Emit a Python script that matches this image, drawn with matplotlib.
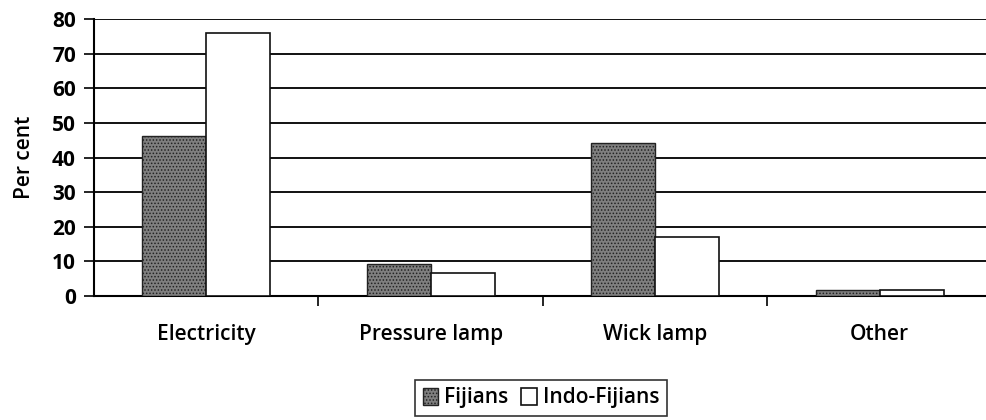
import matplotlib
matplotlib.use("Agg")
import matplotlib.pyplot as plt
import numpy as np

categories = ["Electricity", "Pressure lamp", "Wick lamp", "Other"]
fijians = [46.3, 9.2, 44.2, 1.6]
indo_fijians = [76.0, 6.7, 17.0, 1.6]
series_names = ["Fijians", "Indo-Fijians"]
yticks = [0, 10, 20, 30, 40, 50, 60, 70, 80]

plt.rcParams['font.family'] = ['Open Sans', 'DejaVu Sans']
plt.rcParams['hatch.color'] = '#333333'
plt.rcParams['hatch.linewidth'] = 0.7

fig = plt.figure(figsize=(9.87, 4.2), dpi=100)
ax = fig.add_axes([94/987, 1-296/420, 898/987, (296-19)/420])

x = np.arange(len(categories))
w = 0.285
ax.bar(x - w/2, fijians, w, facecolor='#7f7f7f', edgecolor='#222222',
       hatch='.....', linewidth=1.0, zorder=3, label=series_names[0])
ax.bar(x + w/2, indo_fijians, w, facecolor='white', edgecolor='#111111',
       linewidth=1.2, zorder=3, label=series_names[1])

ax.set_xlim(-0.5, 3.5)
ax.set_ylim(0, 80)
ax.set_yticks(yticks)
ax.set_yticklabels([str(t) for t in yticks], fontsize=15, fontweight='bold')
for yv in yticks[1:]:
    ax.axhline(yv, color='#111111', linewidth=1.4, zorder=1)

ax.set_xticks(x)
ax.set_xticklabels(categories, fontsize=15, fontweight='semibold')
ax.tick_params(axis='x', length=0, pad=20)
ax.set_xticks([0.5, 1.5, 2.5], minor=True)
ax.tick_params(axis='x', which='minor', length=7, width=1.2, direction='out')
ax.tick_params(axis='y', length=7, width=1.2, direction='out', pad=6)

for s in ['top', 'right']:
    ax.spines[s].set_visible(False)
ax.spines['left'].set_linewidth(1.5)
ax.spines['bottom'].set_linewidth(1.5)

ax.set_ylabel("Per cent", fontsize=15, fontweight='semibold', labelpad=12)

leg = fig.legend(loc='center', bbox_to_anchor=(541/987, 1-398/420), ncol=2,
                 fontsize=15, frameon=True, fancybox=False, edgecolor='black',
                 handlelength=0.75, handleheight=0.85, handletextpad=0.3,
                 columnspacing=0.6, borderpad=0.35)
leg.get_frame().set_linewidth(1.2)
for t in leg.get_texts():
    t.set_fontweight('semibold')

fig.savefig("out.png", dpi=100)
